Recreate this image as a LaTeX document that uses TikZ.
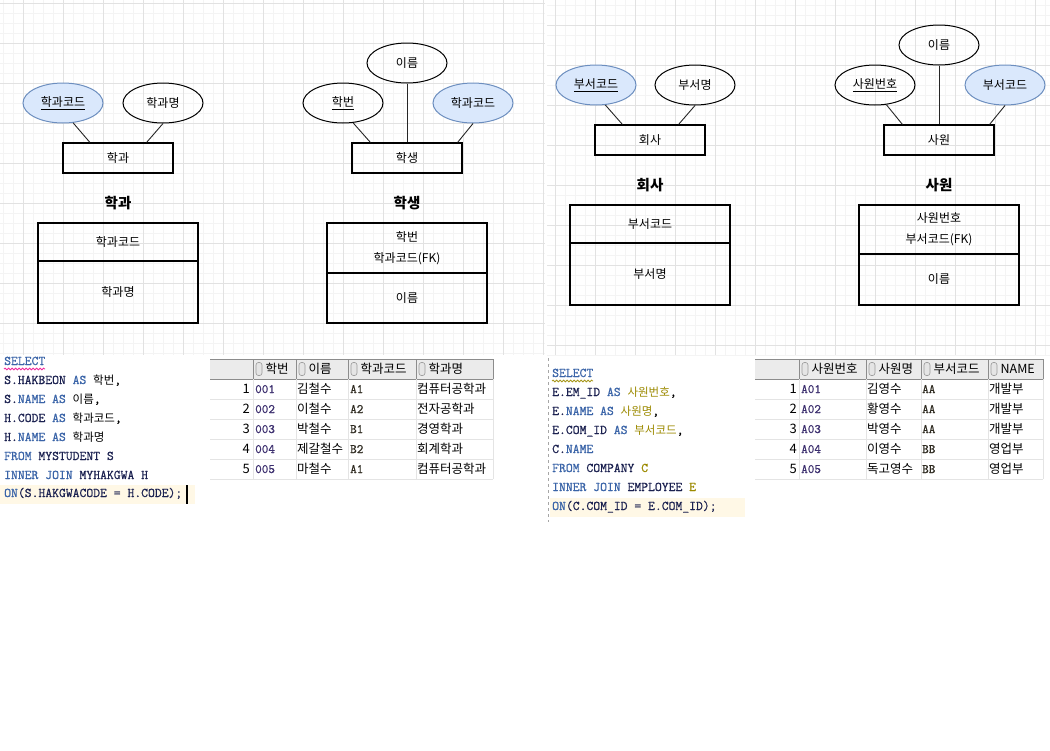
\documentclass[tikz,border=0pt]{standalone}
\usepackage{fontspec}
\setmainfont{Noto Sans CJK KR}
\newfontfamily\kr{Noto Sans CJK KR}
\newfontfamily\codefont{Latin Modern Mono}[FakeBold=0.7]
\usetikzlibrary{shapes.geometric,decorations.pathmorphing}
\definecolor{kw}{HTML}{3A64A8}
\definecolor{idn}{HTML}{1B2150}
\definecolor{als}{HTML}{9C8A00}
\definecolor{gmaj}{HTML}{E2E2E2}
\definecolor{gmin}{HTML}{F4F4F4}
\definecolor{erfill}{HTML}{DAE8FC}
\definecolor{erline}{HTML}{6C8EBF}
\definecolor{hl}{HTML}{FFF8E6}
\definecolor{hdr}{HTML}{EBEBEB}
\definecolor{hsep}{HTML}{8C8C8C}
\definecolor{rsep}{HTML}{E4E4E4}
\definecolor{numc}{HTML}{3B2E6E}
\definecolor{codec}{HTML}{2E2A20}
\newcommand\sqk[1]{\textcolor{kw}{#1}}
\newcommand\sqi[1]{\textcolor{idn}{#1}}
\newcommand\sqa[1]{\textcolor{als}{#1}}
\newcommand\hg[1]{{\kr\fontsize{11.5}{15}\selectfont #1}}
\begin{document}
\begin{tikzpicture}[x=1pt,y=-1pt,
  attr/.style={ellipse, draw, line width=1, minimum width=80pt, minimum height=40pt, inner sep=0pt, font=\fontsize{12}{14}\selectfont},
  keyattr/.style={attr, fill=erfill, draw=erline},
  ent/.style={draw, line width=1.2, minimum width=110pt, minimum height=30pt, inner sep=0pt, font=\fontsize{12}{14}\selectfont},
  ertitle/.style={inner sep=0pt, font=\fontsize{14.5}{17}\selectfont\bfseries},
  tbox/.style={draw, line width=1.2, minimum width=160pt, inner sep=0pt, align=center, font=\fontsize{12}{21}\selectfont},
  conn/.style={draw=black!85, line width=0.9},
  code/.style={anchor=west, inner sep=0pt, text height=9pt, text depth=3pt, font=\fontsize{13.3}{15}\selectfont\codefont},
  wavy/.style={decorate, decoration={snake, amplitude=0.9pt, segment length=3.5pt}, line width=0.8},
  cell/.style={anchor=west, inner sep=0pt, text height=10pt, text depth=2pt, font=\fontsize{12.5}{14}\selectfont},
  mcell/.style={cell, font=\fontsize{12.8}{14}\selectfont\codefont},
  rnum/.style={anchor=east, inner sep=0pt, text height=10pt, text depth=2pt, font=\fontsize{13}{14}\selectfont},
  sorticon/.style={draw=gray!80, fill=gray!20, line width=0.6, rounded corners=2.5pt}
]
\useasboundingbox (0,0) rectangle (1050,750);
\fill[white] (0,0) rectangle (1050,750);
% ---- grid, left panel
\foreach \x in {3,13,...,543} \draw[gmin, line width=0.8] (\x,0) -- (\x,355);
\foreach \y in {3,13,...,353} \draw[gmin, line width=0.8] (0,\y) -- (545,\y);
\foreach \x in {23,63,...,543} \draw[gmaj, line width=0.8] (\x,0) -- (\x,355);
\foreach \y in {3,43,...,323} \draw[gmaj, line width=0.8] (0,\y) -- (545,\y);
% ---- grid, right panel
\foreach \x in {555,565,...,1045} \draw[gmin, line width=0.8] (\x,0) -- (\x,355);
\foreach \y in {5,15,...,355} \draw[gmin, line width=0.8] (547,\y) -- (1050,\y);
\foreach \x in {555,595,...,1035} \draw[gmaj, line width=0.8] (\x,0) -- (\x,355);
\foreach \y in {25,65,...,345} \draw[gmaj, line width=0.8] (547,\y) -- (1050,\y);

% ---- ER 1: 학과
\node[keyattr] (p1k) at (63,103) {\underline{학과코드}};
\node[attr] (p1n) at (163,103) {학과명};
\node[ent] (p1e) at (118,158) {학과};
\draw[conn] (p1k.-63) -- ([xshift=27.5pt]p1e.north west);
\draw[conn] (p1n.south) -- ([xshift=-27pt]p1e.north east);
\node[ertitle] (p1t) at (118,203) {학과};
\node[tbox, minimum height=38pt] (p1a) at (118,242) {학과코드};
\node[tbox, minimum height=62pt] (p1b) at (118,292) {학과명};

% ---- ER 2: 학생
\node[attr] (p2n) at (407,63) {이름};
\node[attr] (p2h) at (343,103) {\underline{학번}};
\node[keyattr] (p2c) at (473,103) {학과코드};
\node[ent] (p2e) at (407,158) {학생};
\draw[conn] (p2h.-63) -- ([xshift=19pt]p2e.north west);
\draw[conn] (p2n.south) -- (p2e.north);
\draw[conn] (p2c.south) -- ([xshift=-5pt]p2e.north east);
\node[ertitle] (p2t) at (407,203) {학생};
\node[tbox, minimum height=50pt] (p2a) at (407,248) {학번\\학과코드(FK)};
\node[tbox, minimum height=50pt] (p2b) at (407,298) {이름};

% ---- ER 3: 회사
\node[keyattr] (p3k) at (596,85) {\underline{부서코드}};
\node[attr] (p3n) at (695,85) {부서명};
\node[ent] (p3e) at (650,140) {회사};
\draw[conn] (p3k.-65) -- ([xshift=28pt]p3e.north west);
\draw[conn] (p3n.south) -- ([xshift=-27pt]p3e.north east);
\node[ertitle] (p3t) at (650,185) {회사};
\node[tbox, minimum height=38pt] (p3a) at (650,224) {부서코드};
\node[tbox, minimum height=62pt] (p3b) at (650,274) {부서명};

% ---- ER 4: 사원
\node[attr] (p4n) at (939,45) {이름};
\node[attr] (p4h) at (875,85) {\underline{사원번호}};
\node[keyattr] (p4c) at (1005,85) {부서코드};
\node[ent] (p4e) at (939,140) {사원};
\draw[conn] (p4h.-60) -- ([xshift=19pt]p4e.north west);
\draw[conn] (p4n.south) -- (p4e.north);
\draw[conn] (p4c.south) -- ([xshift=-5pt]p4e.north east);
\node[ertitle] (p4t) at (939,185) {사원};
\node[tbox, minimum height=49pt] (p4a) at (939,229.5) {사원번호\\부서코드(FK)};
\node[tbox, minimum height=51pt] (p4b) at (939,279.5) {이름};

% ---- SQL 1
\fill[hl] (0,485) rectangle (195,504);
\fill[black] (186,485) rectangle (188,504);
\node[code] (s1l1) at (4,362) {\sqk{SELECT}};
\draw[magenta!85, wavy] (4,369) -- (45,369);
\node[code] (s1l2) at (4,381) {\sqi{S.HAKBEON} \sqk{AS} \hg{학번},};
\node[code] (s1l3) at (4,400) {\sqi{S.}\sqk{NAME} \sqk{AS} \hg{이름},};
\node[code] (s1l4) at (4,419) {\sqi{H.CODE} \sqk{AS} \hg{학과코드},};
\node[code] (s1l5) at (4,438) {\sqi{H.}\sqk{NAME} \sqk{AS} \hg{학과명}};
\node[code] (s1l6) at (4,457) {\sqk{FROM} \sqi{MYSTUDENT S}};
\node[code] (s1l7) at (4,476) {\sqk{INNER JOIN} \sqi{MYHAKGWA H}};
\node[code] (s1l8) at (4,494) {\sqk{ON}\sqi{(S.HAKGWACODE = H.CODE);}};

% ---- SQL 2
\draw[gray!70, dashed, line width=0.7] (548,358) -- (548,522);
\fill[hl] (550,498) rectangle (745,517);
\node[code] (s2l1) at (552,374) {\sqk{SELECT}};
\draw[als!90, wavy] (552,381) -- (593,381);
\node[code] (s2l2) at (552,393) {\sqi{E.EM\_ID} \sqk{AS} \sqa{\hg{사원번호}},};
\node[code] (s2l3) at (552,412) {\sqi{E.}\sqk{NAME} \sqk{AS} \sqa{\hg{사원명}},};
\node[code] (s2l4) at (552,431) {\sqi{E.COM\_ID} \sqk{AS} \sqa{\hg{부서코드}},};
\node[code] (s2l5) at (552,450) {\sqi{C.}\sqk{NAME}};
\node[code] (s2l6) at (552,469) {\sqk{FROM} \sqi{COMPANY} \sqa{C}};
\node[code] (s2l7) at (552,488) {\sqk{INNER JOIN} \sqi{EMPLOYEE} \sqa{E}};
\node[code] (s2l8) at (552,507) {\sqk{ON}\sqi{(C.COM\_ID = E.COM\_ID);}};

% ---- Result table 1
\fill[hdr] (210,359) rectangle (493,379);
\draw[hsep, line width=0.8] (210,359) -- (493,359);
\draw[hsep, line width=1] (210,379) -- (493,379);
\foreach \y in {399,419,...,479} \draw[rsep, line width=0.8] (210,\y) -- (493,\y);
\foreach \x in {253,296,348,416,493} {
  \draw[rsep, line width=0.8] (\x,379) -- (\x,479);
  \draw[hsep, line width=0.8] (\x,359) -- (\x,379);
}
\foreach \x/\t [count=\i] in {253/학번,296/이름,348/학과코드,416/학과명} {
  \draw[sorticon] (\x+3,362.5) rectangle (\x+9,375.5);
  \node[cell] (t1h\i) at (\x+12.5,369) {\t};
}
\foreach \a/\b/\c/\d [count=\i] in {001/김철수/A1/컴퓨터공학과,002/이철수/A2/전자공학과,003/박철수/B1/경영학과,004/제갈철수/B2/회계학과,005/마철수/A1/컴퓨터공학과} {
  \node[rnum] (t1r\i) at (250,369+20*\i) {\i};
  \node[mcell, text=numc] (t1a\i) at (255,369+20*\i) {\a};
  \node[cell] (t1b\i) at (297,369+20*\i) {\b};
  \node[mcell, text=codec] (t1c\i) at (350,369+20*\i) {\c};
  \node[cell] (t1d\i) at (417,369+20*\i) {\d};
}

% ---- Result table 2
\fill[hdr] (755,359) rectangle (1043,379);
\draw[hsep, line width=0.8] (755,359) -- (1043,359);
\draw[hsep, line width=1] (755,379) -- (1043,379);
\foreach \y in {399,419,...,479} \draw[rsep, line width=0.8] (755,\y) -- (1043,\y);
\foreach \x in {799,866,921,988,1043} {
  \draw[rsep, line width=0.8] (\x,379) -- (\x,479);
  \draw[hsep, line width=0.8] (\x,359) -- (\x,379);
}
\foreach \x/\t [count=\i] in {799/사원번호,866/사원명,921/부서코드,988/NAME} {
  \draw[sorticon] (\x+3,362.5) rectangle (\x+9,375.5);
  \node[cell] (t2h\i) at (\x+12.5,369) {\t};
}
\foreach \a/\b/\c/\d [count=\i] in {A01/김영수/AA/개발부,A02/황영수/AA/개발부,A03/박영수/AA/개발부,A04/이영수/BB/영업부,A05/독고영수/BB/영업부} {
  \node[rnum] (t2r\i) at (797,369+20*\i) {\i};
  \node[mcell, text=numc] (t2a\i) at (801,369+20*\i) {\a};
  \node[cell] (t2b\i) at (867,369+20*\i) {\b};
  \node[mcell, text=codec] (t2c\i) at (922,369+20*\i) {\c};
  \node[cell] (t2d\i) at (989,369+20*\i) {\d};
}
\end{tikzpicture}
\end{document}
